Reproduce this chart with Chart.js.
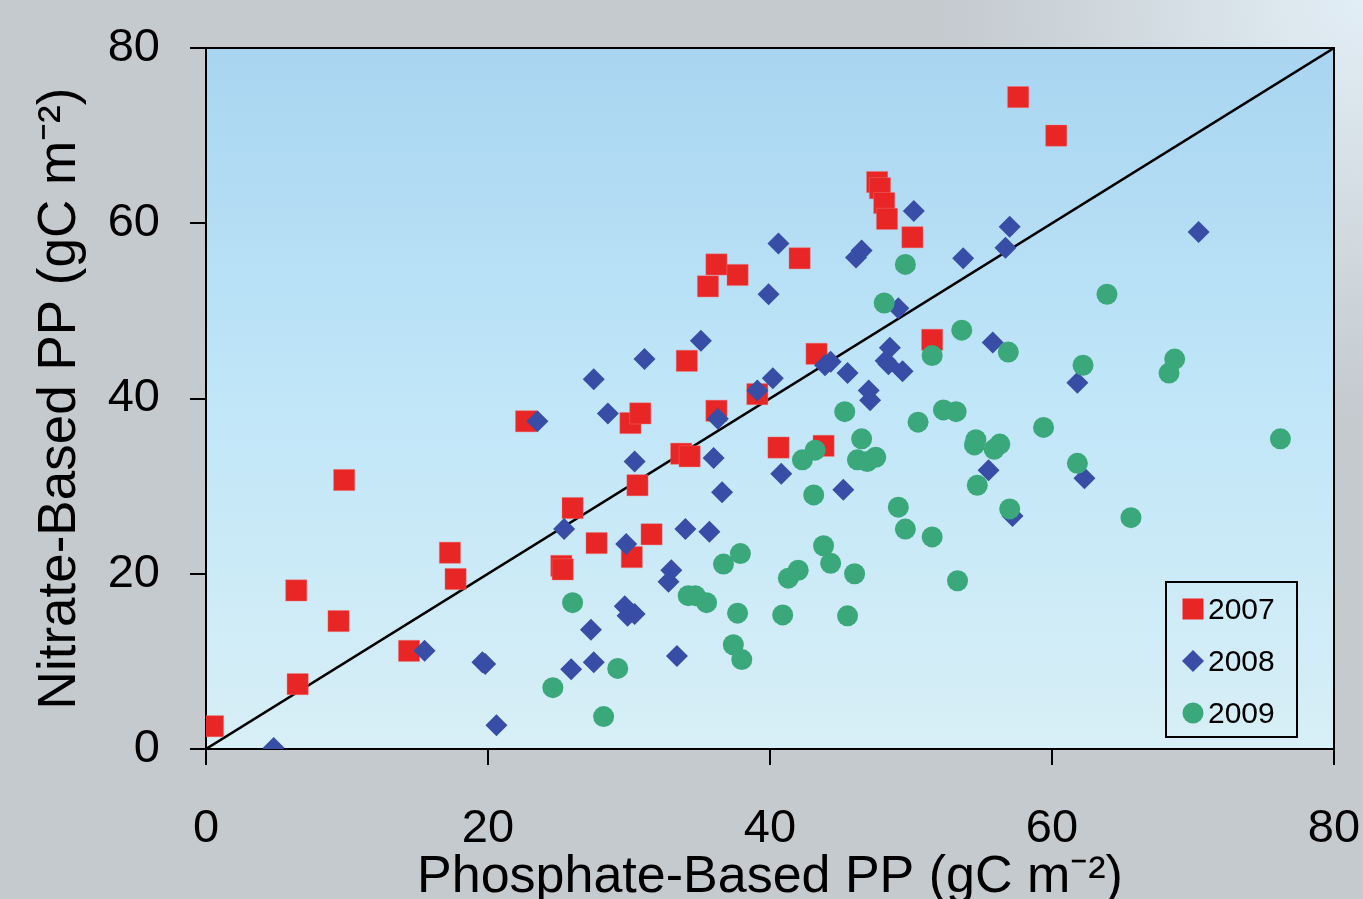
<!DOCTYPE html>
<html>
<head>
<meta charset="utf-8">
<script src="https://cdn.jsdelivr.net/npm/chart.js@4"></script>
<style>
  html, body { margin: 0; padding: 0; background: #c4cace; }
  #wrap { width: 1363px; height: 899px; }
</style>
</head>
<body>
<div id="wrap"><canvas id="chart" width="1363" height="899"></canvas></div>
<script>
// datos (gC m-2)
const years = ['2007', '2008', '2009'];

const x2007 = [0.5, 6.4, 6.5, 9.4, 9.8, 14.4, 17.3, 17.7, 22.7, 25.2, 25.3, 26.0, 27.7, 30.1, 30.8, 30.2, 30.6, 31.6, 33.7, 34.3, 34.1, 35.6, 36.2, 36.2, 37.7, 39.1, 40.6, 42.1, 43.3, 43.8, 47.6, 47.8, 48.1, 48.3, 50.1, 51.5, 57.6, 60.3];
const y2007 = [2.6, 18.1, 7.4, 14.6, 30.7, 11.2, 22.4, 19.4, 37.4, 20.9, 20.5, 27.5, 23.5, 37.2, 38.3, 21.9, 30.1, 24.5, 33.7, 33.4, 44.3, 52.8, 55.3, 38.6, 54.1, 40.5, 34.4, 56.0, 45.1, 34.6, 64.7, 64.0, 62.3, 60.5, 58.4, 46.7, 74.4, 70.0];

const x2008 = [4.8, 15.5, 19.6, 19.8, 20.6, 23.5, 25.4, 25.9, 27.3, 27.5, 27.5, 28.5, 29.8, 29.7, 29.9, 30.4, 30.4, 31.1, 32.8, 33.0, 33.4, 34.0, 35.1, 35.7, 36.0, 36.3, 36.6, 39.1, 39.9, 40.2, 40.6, 40.8, 43.9, 44.3, 45.2, 45.5, 46.1, 46.5, 47.0, 47.1, 48.2, 48.4, 48.5, 49.1, 49.4, 50.2, 53.7, 55.5, 55.8, 56.7, 57.0, 57.2, 61.8, 62.3, 70.4];
const y2008 = [0.1, 11.2, 9.9, 9.7, 2.7, 37.4, 25.1, 9.1, 13.6, 42.2, 9.9, 38.3, 23.4, 16.3, 15.2, 15.4, 32.8, 44.5, 19.1, 20.4, 10.6, 25.1, 46.6, 24.8, 33.2, 37.7, 29.3, 40.9, 51.9, 42.3, 57.7, 31.4, 43.8, 44.2, 29.6, 42.9, 56.1, 56.9, 40.9, 39.8, 44.3, 43.9, 45.8, 50.3, 43.1, 61.4, 56.0, 31.8, 46.4, 57.2, 59.6, 26.6, 41.8, 30.9, 59.0];

const x2009 = [24.6, 26.0, 28.2, 29.2, 34.2, 34.7, 35.5, 36.7, 37.4, 37.7, 37.9, 38.0, 40.9, 41.3, 42.0, 42.3, 43.1, 43.2, 43.8, 44.3, 45.3, 45.5, 46.0, 46.2, 46.5, 46.9, 47.5, 48.1, 49.1, 49.6, 49.6, 50.5, 51.5, 51.5, 52.3, 53.2, 53.3, 53.6, 54.5, 54.6, 54.7, 55.9, 56.3, 56.9, 57.0, 59.4, 61.8, 62.2, 63.9, 65.6, 68.3, 68.7, 76.2];
const y2009 = [7.0, 16.7, 3.7, 9.2, 17.5, 17.5, 16.7, 21.1, 11.9, 15.5, 22.3, 10.2, 15.3, 19.5, 20.4, 33.0, 29.0, 34.1, 23.2, 21.2, 38.5, 15.2, 20.0, 33.0, 35.4, 32.8, 33.3, 50.9, 27.6, 25.1, 55.3, 37.3, 24.2, 44.9, 38.7, 38.5, 19.2, 47.8, 34.7, 35.3, 30.1, 34.2, 34.8, 45.3, 27.4, 36.7, 32.6, 43.8, 51.9, 26.4, 42.9, 44.5, 35.4];

// linea 1:1
const lineaX = [0, 80];
const lineaY = [0, 80];

const axisMin = 0;
const axisMax = 80;
const tickStep = 20;

const FONT = '"Liberation Sans", Arial, sans-serif';
const rojo = 'rgb(232, 38, 38)';
const azul = 'rgb(56, 77, 165)';
const verde = 'rgb(58, 168, 122)';

const toPoints = (xs, ys) => xs.map((x, i) => ({ x: x, y: ys[i] }));

// fondo gris + area azul, marco y leyenda
const fondoPlugin = {
  id: 'fondo',
  beforeDraw(chart) {
    const { ctx, width, height, chartArea: a } = chart;
    ctx.save();
    ctx.fillStyle = '#c4cace';
    ctx.fillRect(0, 0, width, height);
    const rg = ctx.createRadialGradient(width, 0, 0, width, 0, 420);
    rg.addColorStop(0, 'rgba(226,238,246,1)');
    rg.addColorStop(1, 'rgba(226,238,246,0)');
    ctx.fillStyle = rg;
    ctx.fillRect(0, 0, width, height);
    const g = ctx.createLinearGradient(0, a.top, 0, a.bottom);
    g.addColorStop(0, '#a9d5f1');
    g.addColorStop(0.5, '#c0e6f8');
    g.addColorStop(1, '#d8eff6');
    ctx.fillStyle = g;
    ctx.fillRect(a.left, a.top, a.right - a.left, a.bottom - a.top);
    ctx.restore();
  },
  afterDraw(chart) {
    const { ctx, chartArea: a } = chart;
    ctx.save();
    ctx.strokeStyle = '#000';
    ctx.lineWidth = 2;
    ctx.beginPath();
    ctx.moveTo(a.left, a.top);
    ctx.lineTo(a.right, a.top);
    ctx.lineTo(a.right, a.bottom);
    ctx.stroke();

    // leyenda
    const bx = 1166, by = 582, bw = 131, bh = 155;
    ctx.lineWidth = 2;
    ctx.strokeRect(bx, by, bw, bh);
    ctx.font = '30px ' + FONT;
    ctx.textBaseline = 'middle';
    ctx.textAlign = 'left';
    const ds = chart.data.datasets.filter(d => years.includes(d.label))
      .sort((p, q) => p.label.localeCompare(q.label));
    ds.forEach((d, i) => {
      const cy = 609 + i * 52;
      const cx = 1193;
      ctx.fillStyle = d.backgroundColor;
      ctx.beginPath();
      if (d.pointStyle === 'rect') {
        ctx.rect(cx - 10.5, cy - 10.5, 21, 21);
      } else if (d.pointStyle === 'rectRot') {
        ctx.moveTo(cx, cy - 11); ctx.lineTo(cx + 11, cy);
        ctx.lineTo(cx, cy + 11); ctx.lineTo(cx - 11, cy); ctx.closePath();
      } else {
        ctx.arc(cx, cy, 10.5, 0, Math.PI * 2);
      }
      ctx.fill();
      ctx.fillStyle = '#000';
      ctx.fillText(d.label, 1208, cy + 2);
    });
    ctx.restore();
  }
};

const ctx = document.getElementById('chart').getContext('2d');
const chart = new Chart(ctx, {
  type: 'scatter',
  data: {
    datasets: [
      {
        label: '2007',
        data: toPoints(x2007, y2007),
        pointStyle: 'rect',
        pointRadius: 15,
        backgroundColor: rojo,
        borderColor: 'rgba(240,120,120,0.8)',
        borderWidth: 0.5,
        order: 3
      },
      {
        label: '2008',
        data: toPoints(x2008, y2008),
        pointStyle: 'rectRot',
        pointRadius: 11,
        backgroundColor: azul,
        borderColor: azul,
        borderWidth: 0,
        order: 2
      },
      {
        label: '2009',
        data: toPoints(x2009, y2009),
        pointStyle: 'circle',
        pointRadius: 10.5,
        backgroundColor: verde,
        borderColor: verde,
        borderWidth: 0,
        order: 1
      },
      {
        label: '1:1',
        type: 'line',
        data: toPoints(lineaX, lineaY),
        borderColor: '#000',
        borderWidth: 2.5,
        pointRadius: 0,
        fill: false,
        order: 4
      }
    ]
  },
  options: {
    responsive: false,
    animation: false,
    devicePixelRatio: 1,
    layout: { padding: { top: 48, right: 29, left: 0, bottom: 0 } },
    plugins: {
      legend: { display: false },
      tooltip: { enabled: false }
    },
    scales: {
      x: {
        type: 'linear',
        min: axisMin,
        max: axisMax,
        afterFit: (s) => { s.height = 150; s.paddingLeft = 0; s.paddingRight = 0; },
        ticks: {
          stepSize: tickStep,
          color: '#000',
          padding: 36,
          maxRotation: 0,
          font: { family: FONT, size: 47, lineHeight: 1.2 }
        },
        grid: { display: true, drawOnChartArea: false, drawTicks: true, tickLength: 16, color: '#000', lineWidth: 2 },
        border: { display: true, color: '#000', width: 2 },
        title: {
          display: true,
          text: 'Phosphate-Based PP (gC m\u207B\u00B2)',
          color: '#000',
          font: { family: FONT, size: 52, lineHeight: 1 },
          padding: { top: 0, bottom: -5 }
        }
      },
      y: {
        type: 'linear',
        min: axisMin,
        max: axisMax,
        afterFit: (s) => { s.width = 206; s.paddingTop = 0; s.paddingBottom = 0; },
        ticks: {
          stepSize: tickStep,
          color: '#000',
          padding: 30,
          font: { family: FONT, size: 47 }
        },
        grid: { display: true, drawOnChartArea: false, drawTicks: true, tickLength: 16, color: '#000', lineWidth: 2 },
        border: { display: true, color: '#000', width: 2 },
        title: {
          display: true,
          text: 'Nitrate-Based PP (gC m\u207B\u00B2)',
          color: '#000',
          font: { family: FONT, size: 53, lineHeight: 1 },
          padding: { top: 34, bottom: 0 }
        }
      }
    }
  },
  plugins: [fondoPlugin]
});
</script>
</body>
</html>
